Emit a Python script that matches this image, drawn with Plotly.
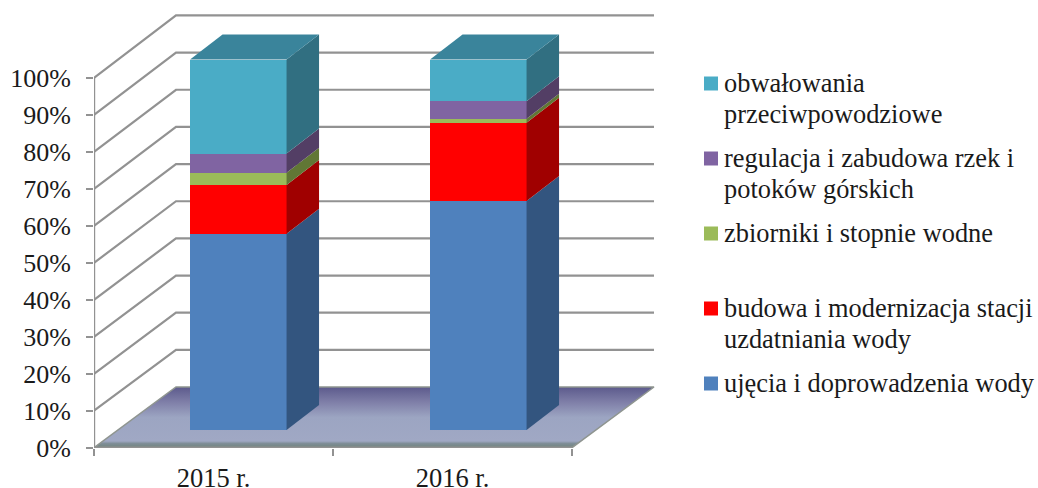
import plotly.graph_objects as go

categories = ["2015 r.", "2016 r."]
series_names = [
    "ujęcia i doprowadzenia wody",
    "budowa i modernizacja stacji uzdatniania wody",
    "zbiorniki i stopnie wodne",
    "regulacja i zabudowa rzek i potoków górskich",
    "obwałowania przeciwpowodziowe",
]
legend_lines = [
    ["ujęcia i doprowadzenia wody"],
    ["budowa i modernizacja stacji", "uzdatniania wody"],
    ["zbiorniki i stopnie wodne"],
    ["regulacja i zabudowa rzek i", "potoków górskich"],
    ["obwałowania", "przeciwpowodziowe"],
]
ujecia = [53.0, 61.8]
budowa = [13.1, 21.1]
zbiorniki = [3.3, 1.1]
regulacja = [5.2, 4.7]
obwalowania = [25.4, 11.3]
series_values = [ujecia, budowa, zbiorniki, regulacja, obwalowania]
front_colors = ["#4f81bd", "#ff0000", "#9bbb59", "#8064a2", "#4aacc6"]
side_colors = ["#33557f", "#a00000", "#617735", "#533e65", "#316f81"]
top_color = "#3a849b"
y_ticks = [0, 10, 20, 30, 40, 50, 60, 70, 80, 90, 100]
y_tick_text = [f"{v}%" for v in y_ticks]
FONT = "Liberation Serif"
GRID = "#929292"
TEXT = "#1a1a1a"

# pixel frame of the plot area
L, R, T, B = 94, 656, 12, 448
W_PX, H_PX = R - L, B - T

# wall axes: category i at px 214+239i, value v at px 447.7-3.697v
x_lo = -0.5
x_hi = x_lo + W_PX / 239
y_lo = (447.7 - B) / 3.697
y_hi = y_lo + H_PX / 3.697
wall_dx = 82 / 239
wall_dy = 60.7 / 3.697
wall_stretch = 1.005

# bar axes: category i at px 238.3+240i, value v at px 430-3.705v
bx_lo = (L - 238.3) / 240
bx_hi = (R - 238.3) / 240
by_lo = (430 - B) / 3.705
by_hi = (430 - T) / 3.705
bar_w = 96.5 / 240
bar_dx = 32.5 / 240
bar_dy = 25 / 3.705

fig = go.Figure()

def line(xs, ys, width=2.2, color=GRID):
    fig.add_trace(go.Scatter(x=xs, y=ys, mode="lines", line=dict(color=color, width=width),
                             showlegend=False, hoverinfo="skip", cliponaxis=False))

# floor
fig.add_trace(go.Scatter(
    x=[x_lo, x_lo + wall_dx, 1.5 + wall_dx, 1.5, x_lo],
    y=[0, wall_dy, wall_dy, 0, 0],
    mode="lines", fill="toself", line=dict(color="#8f9590", width=1.5),
    fillgradient=dict(type="vertical", colorscale=[
        [0, "#71847c"], [0.07, "#7f8e98"], [0.11, "#a0a8c4"], [0.5, "#9ca5c2"],
        [0.75, "#7f7fa8"], [1, "#5c5a8c"]]),
    showlegend=False, hoverinfo="skip", cliponaxis=False))

# walls: back lines and oblique lines for every tick
for v in y_ticks[1:]:
    back = v * wall_stretch + wall_dy
    line([x_lo, x_lo + wall_dx, 1.5 + wall_dx], [v, back, back])
line([x_lo, x_lo], [0, 100], 2.4)
line([x_lo, 1.5], [0, 0], 2.4)

# bars: front faces
for name, vals, col in zip(series_names, series_values, front_colors):
    fig.add_trace(go.Bar(x=[0, 1], y=vals, name=name, width=bar_w, xaxis="x2", yaxis="y2",
                         marker=dict(color=col, line=dict(width=0)), showlegend=False,
                         hoverinfo="skip"))

# bars: side and top faces
for i in range(len(categories)):
    base = 0
    xr = i + bar_w / 2
    for vals, col in zip(series_values, side_colors):
        t = base + vals[i]
        fig.add_trace(go.Scatter(
            x=[xr, xr + bar_dx, xr + bar_dx, xr, xr],
            y=[base, base + bar_dy, t + bar_dy, t, base],
            mode="lines", fill="toself", fillcolor=col, line=dict(width=0),
            xaxis="x2", yaxis="y2", showlegend=False, hoverinfo="skip"))
        base = t
    xl = i - bar_w / 2
    fig.add_trace(go.Scatter(
        x=[xl, xl + bar_dx, xr + bar_dx, xr, xl],
        y=[base, base + bar_dy, base + bar_dy, base, base],
        mode="lines", fill="toself", fillcolor=top_color, line=dict(width=0),
        xaxis="x2", yaxis="y2", showlegend=False, hoverinfo="skip"))

# legend (keys sit on the first text line; entries are evenly spaced)
def px_x(p):
    return (p - L) / W_PX

def px_y(p):
    return (B - p) / H_PX

shapes, annotations = [], []
KEY_Y0, KEY_STEP, LINE_STEP = 383.5, -75, 31
for k, (lines, col) in enumerate(zip(legend_lines, front_colors)):
    yc = KEY_Y0 + k * KEY_STEP
    shapes.append(dict(type="rect", xref="paper", yref="paper", x0=px_x(704), x1=px_x(718),
                       y0=px_y(yc - 7), y1=px_y(yc + 7), fillcolor=col,
                       line=dict(width=0)))
    for j, txt in enumerate(lines):
        annotations.append(dict(text=txt, xref="paper", yref="paper", x=px_x(722),
                                y=px_y(yc - 0.5 + j * LINE_STEP), xanchor="left", yanchor="middle",
                                showarrow=False, align="left",
                                font=dict(family=FONT, size=26.4, color=TEXT)))

fig.update_layout(
    template="none",
    width=1038, height=488, autosize=False,
    margin=dict(l=L, r=1038 - R, t=T, b=488 - B, pad=0),
    paper_bgcolor="white", plot_bgcolor="white",
    barmode="stack", bargap=0, showlegend=False,
    font=dict(family=FONT, size=26, color=TEXT),
    shapes=shapes, annotations=annotations,
    xaxis=dict(range=[x_lo, x_hi], tickmode="array", tickvals=[0, 1], ticktext=categories,
               automargin=False, showgrid=False, zeroline=False, showline=False, ticks="",
               ticklabelstandoff=11,
               tickfont=dict(family=FONT, size=26.5, color=TEXT),
               minor=dict(tickmode="array", tickvals=[-0.5, 0.5, 1.5], ticks="outside",
                          ticklen=7, tickwidth=2, tickcolor=GRID, showgrid=False)),
    yaxis=dict(range=[y_lo, y_hi], tickmode="array", tickvals=y_ticks, ticktext=y_tick_text,
               automargin=False, showgrid=False, zeroline=False, showline=False,
               ticks="outside", ticklen=7, tickwidth=2, tickcolor=GRID, ticklabelstandoff=10,
               tickfont=dict(family=FONT, size=26, color=TEXT)),
    xaxis2=dict(range=[bx_lo, bx_hi], overlaying="x", anchor="y2", visible=False),
    yaxis2=dict(range=[by_lo, by_hi], overlaying="y", anchor="x2", visible=False),
)

fig.write_html("out.html", config=dict(displayModeBar=False),
               post_script="document.body.style.margin='0';document.documentElement.style.overflow='hidden';")
